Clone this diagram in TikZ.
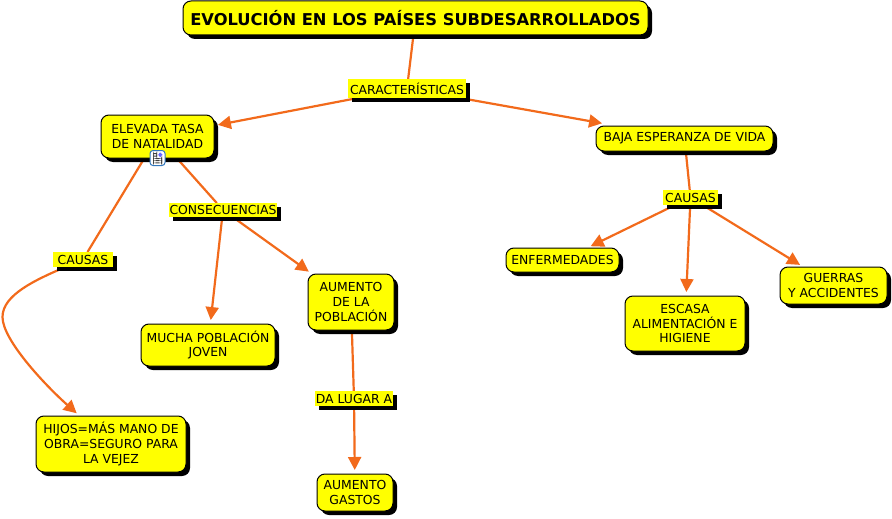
\documentclass[tikz,border=0pt]{standalone}
\usepackage{fontspec}
\setmainfont{DejaVu Sans}
\usetikzlibrary{arrows.meta, positioning, shadows, backgrounds}
\definecolor{mapyellow}{HTML}{FFFF00}
\definecolor{maporange}{HTML}{F26A1B}
\tikzset{
  hardshadow/.style={general shadow={fill=black,shadow xshift=4pt,shadow yshift=-4pt}},
  dims/.style n args={2}{minimum width=#1pt,minimum height=#2pt},
  box/.style={rectangle,draw=black,line width=1pt,fill=mapyellow,rounded corners=8pt,align=center,inner sep=0pt,outer sep=0pt,font=\fontsize{12.4}{14.7}\selectfont,hardshadow},
  titlebox/.style={box,font=\fontsize{16.3}{18}\selectfont\bfseries},
  linkword/.style={rectangle,fill=mapyellow,inner sep=0pt,outer sep=0pt,font=\fontsize{12.4}{14.7}\selectfont,hardshadow},
  line/.style={-{Triangle[length=13pt,width=13pt]},draw=maporange,line width=2.2pt,shorten >=4pt},
  plainline/.style={draw=maporange,line width=2.2pt},
  noteicon/.style={rectangle,draw={rgb,255:red,50;green,120;blue,190},line width=1pt,fill=white,rounded corners=3pt,minimum size=15pt,inner sep=0pt}
}
\begin{document}
\begin{tikzpicture}[x=1pt,y=-1pt]
\useasboundingbox (0,0) rectangle (892,519);
\node[titlebox,dims={465}{34}] (title) at (415.5,18) {EVOLUCIÓN EN LOS PAÍSES SUBDESARROLLADOS};
\node[linkword,dims={118}{19},below=44pt of title,xshift=-8.5pt] (caract) {CARACTERÍSTICAS};
\node[box,dims={113}{43},below=17pt of caract,xshift=-249.5pt] (elevada) {ELEVADA TASA\\ DE NATALIDAD};
\node[box,dims={177}{25},below=28pt of caract,xshift=277.5pt] (baja) {BAJA ESPERANZA DE VIDA};
\node[linkword,dims={55}{15},below=39pt of baja,xshift=6pt] (causasr) {CAUSAS};
\node[box,dims={113}{24},below=43pt of causasr,xshift=-128pt] (enfermedades) {ENFERMEDADES};
\node[box,dims={120}{55},below=91pt of causasr,xshift=-5.5pt] (escasa) {ESCASA\\ ALIMENTACIÓN E\\ HIGIENE};
\node[box,dims={107}{37},below=62pt of causasr,xshift=143pt] (guerras) {GUERRAS\\ Y ACCIDENTES};
\node[linkword,dims={108}{14},below=45pt of elevada,xshift=65.5pt] (consec) {CONSECUENCIAS};
\node[linkword,dims={60}{15},below=94pt of elevada,xshift=-74.5pt] (causasl) {CAUSAS};
\node[box,dims={86}{56},below=57pt of consec,xshift=128pt] (aumento) {AUMENTO\\ DE LA\\ POBLACIÓN};
\node[box,dims={134}{42},below=107pt of consec,xshift=-15pt] (mucha) {MUCHA POBLACIÓN\\ JOVEN};
\node[box,dims={150}{56},below=149pt of causasl,xshift=28pt] (hijos) {HIJOS=MÁS MANO DE\\ OBRA=SEGURO PARA\\ LA VEJEZ};
\node[linkword,dims={78}{15},below=61pt of aumento,xshift=3pt] (dalugar) {DA LUGAR A};
\node[box,dims={76}{37},below=68pt of dalugar,xshift=1pt] (gastos) {AUMENTO\\ GASTOS};
\node[noteicon,path picture={
  \fill[black!75] (-4.5,-5) rectangle (-0.5,-3.8);
  \fill[black!75] (-4.5,-2.5) rectangle (-0.5,-1.5);
  \fill[black!75] (-4.5,0) rectangle (4.5,1);
  \fill[black!75] (-4.5,2.2) rectangle (4.5,3.2);
  \fill[black!75] (-4.5,4.4) rectangle (4.5,5.4);
  \fill[blue!60] (0.8,-5.5) rectangle (4.8,-1);
}] (note) at (elevada.south) {};
\begin{pgfonlayer}{background}
\draw[plainline] (title) -- (caract);
\draw[line] (caract) -- (elevada);
\draw[line] (caract) -- ([xshift=10pt,yshift=2pt]baja.north west);
\draw[plainline] (elevada) -- (consec);
\draw[plainline] (elevada) -- (causasl);
\draw[line] (consec) -- (mucha);
\draw[line] (consec) -- (aumento);
\coordinate (bend) at (2.5,317);
\draw[line] (causasl) .. controls (35,280) and (2.5,295) .. (bend) .. controls (2.5,340) and (45,385) .. (hijos);
\draw[plainline] (aumento) -- (dalugar);
\draw[line] (dalugar) -- (gastos);
\draw[plainline] (baja) -- (causasr);
\draw[line] (causasr) -- (enfermedades);
\draw[line] (causasr) -- (escasa);
\draw[line] (causasr) -- (guerras);
\end{pgfonlayer}
\end{tikzpicture}
\end{document}
